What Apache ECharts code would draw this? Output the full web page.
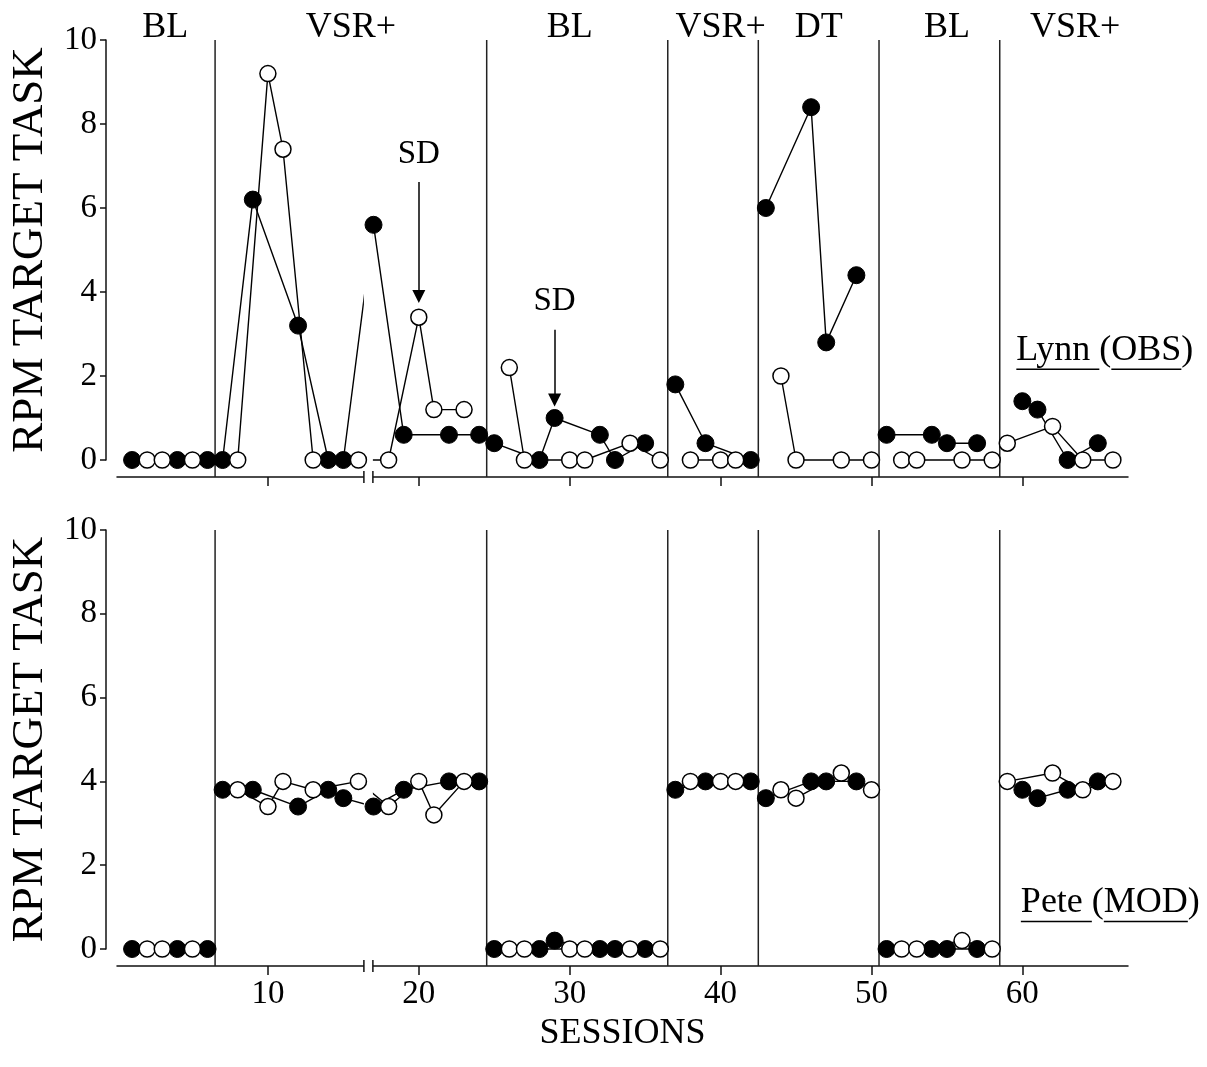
<!DOCTYPE html>
<html>
<head>
<meta charset="utf-8">
<title>RPM target task</title>
<script src="https://cdn.jsdelivr.net/npm/echarts@6/dist/echarts.min.js"></script>
<style>
  html, body { margin: 0; padding: 0; background: #fff; }
  #chart { width: 1207px; height: 1067px; }
</style>
</head>
<body>
<div id="chart"></div>
<script>
// Condition of each session: F = filled circle, O = open circle
const sessionCondition = [
  'F','O','O','F','O','F',
  'F','O','F','O','O','F','O','F','F','O','F','O','F','O','O','F','O','F',
  'F','O','O','F','F','O','O','F','F','O','F','O',
  'F','O','F','O','O','F',
  'F','O','O','F','F','O','F','O',
  'F','O','O','F','F','O','F','O',
  'O','F','F','O','F','O','F','O'
];

// Responses per minute on the target task, sessions 1-66
const lynnRpm = [
  0, 0, 0, 0, 0, 0,
  0, 0, 6.2, 9.2, 7.4, 3.2, 0, 0, 0, 0, 5.6, 0, 0.6, 3.4, 1.2, 0.6, 1.2, 0.6,
  0.4, 2.2, 0, 0, 1.0, 0, 0, 0.6, 0, 0.4, 0.4, 0,
  1.8, 0, 0.4, 0, 0, 0,
  6.0, 2.0, 0, 8.4, 2.8, 0, 4.4, 0,
  0.6, 0, 0, 0.6, 0.4, 0, 0.4, 0,
  0.4, 1.4, 1.2, 0.8, 0, 0, 0.4, 0
];
const peteRpm = [
  0, 0, 0, 0, 0, 0,
  3.8, 3.8, 3.8, 3.4, 4.0, 3.4, 3.8, 3.8, 3.6, 4.0, 3.4, 3.4, 3.8, 4.0, 3.2, 4.0, 4.0, 4.0,
  0, 0, 0, 0, 0.2, 0, 0, 0, 0, 0, 0, 0,
  3.8, 4.0, 4.0, 4.0, 4.0, 4.0,
  3.6, 3.8, 3.6, 4.0, 4.0, 4.2, 4.0, 3.8,
  0, 0, 0, 0, 0, 0.2, 0, 0,
  4.0, 3.8, 3.6, 4.2, 3.8, 3.8, 4.0, 4.0
];

// Phase changes (between sessions) and phase names
const phaseChanges = [6.5, 24.5, 36.5, 42.5, 50.5, 58.5];
const phaseNames = ['BL', 'VSR+', 'BL', 'VSR+', 'DT', 'BL', 'VSR+'];
const phaseLabelAt = [3.2, 15.5, 30, 40, 46.5, 55, 63.5];

const participants = ['Lynn (OBS)', 'Pete (MOD)'];
const participantLabelAt = [[59.6, 2.6], [59.9, 1.1]];

const yTicks = [0, 2, 4, 6, 8, 10];
const xTicks = [10, 20, 30, 40, 50, 60];

// SD arrows in Lynn's panel: session, arrow start, arrow head
const sdMarks = [
  { session: 20, from: 6.62, to: 3.89 },
  { session: 29, from: 3.10, to: 1.43 }
];

// Break in the session axis
const axisBreakAt = 16.66;

const FONT_FAMILY = '"Liberation Serif", "Times New Roman", Times, serif';
const X_AXIS_OFFSET = 17;
const Y_AXIS_OFFSET = 11;

const panels = [
  { values: lynnRpm, top: 40, height: 420 },
  { values: peteRpm, top: 530, height: 419 }
];

// Line data for one condition, broken at every phase change
function lineData(values, cond) {
  const out = [];
  let phase = 0;
  values.forEach((v, i) => {
    const s = i + 1;
    while (phase < phaseChanges.length && s > phaseChanges[phase]) {
      out.push([phaseChanges[phase], '-']);
      phase++;
    }
    if (sessionCondition[i] === cond) out.push([s, v]);
  });
  return out;
}
function pointData(values, cond) {
  const out = [];
  values.forEach((v, i) => { if (sessionCondition[i] === cond) out.push([i + 1, v]); });
  return out;
}

const chart = echarts.init(document.getElementById('chart'), null, { renderer: 'canvas' });

const grids = panels.map(p => ({ left: 117, right: 79, top: p.top, height: p.height }));

const xAxes = panels.map((p, g) => ({
  type: 'value', gridIndex: g, min: 0, max: 67, offset: X_AXIS_OFFSET,
  axisLine: { show: true, onZero: false, lineStyle: { color: '#111', width: 1.5 } },
  axisTick: { show: true, customValues: xTicks, length: 9, lineStyle: { color: '#111', width: 1.5 } },
  axisLabel: { show: g === 1, customValues: xTicks, fontSize: 33, fontFamily: FONT_FAMILY, color: '#000', margin: 12 },
  splitLine: { show: false },
  name: g === 1 ? 'SESSIONS' : '',
  nameLocation: 'middle', nameGap: 50,
  nameTextStyle: { fontSize: 36, fontFamily: FONT_FAMILY, color: '#000' }
}));

const yAxes = panels.map((p, g) => ({
  type: 'value', gridIndex: g, min: 0, max: 10, interval: 2, offset: Y_AXIS_OFFSET,
  axisLine: { show: true, onZero: false, lineStyle: { color: '#111', width: 1.5 } },
  axisTick: { show: true, length: 6, lineStyle: { color: '#111', width: 1.5 } },
  axisLabel: { fontSize: 33, fontFamily: FONT_FAMILY, color: '#000', margin: 9,
    formatter: v => (yTicks.indexOf(v) >= 0 ? String(v) : '') },
  splitLine: { show: false },
  name: 'RPM TARGET TASK', nameLocation: 'middle', nameGap: 50,
  nameTextStyle: { fontSize: 45, fontFamily: FONT_FAMILY, color: '#000' }
}));

const series = [];
panels.forEach((p, g) => {
  ['F', 'O'].forEach(c => {
    series.push({
      type: 'line', xAxisIndex: g, yAxisIndex: g, data: lineData(p.values, c),
      showSymbol: false, symbol: 'none', connectNulls: false, clip: false, silent: true,
      lineStyle: { color: '#000', width: 1.4 }, z: 2
    });
  });
  series.push({
    type: 'scatter', xAxisIndex: g, yAxisIndex: g, data: pointData(p.values, 'F'),
    symbol: 'circle', symbolSize: 17, clip: false, silent: true,
    itemStyle: { color: '#000', borderColor: '#000', borderWidth: 1, opacity: 1 }, z: 4
  });
  series.push({
    type: 'scatter', xAxisIndex: g, yAxisIndex: g, data: pointData(p.values, 'O'),
    symbol: 'circle', symbolSize: 16, clip: false, silent: true,
    itemStyle: { color: '#fff', borderColor: '#000', borderWidth: 1.5, opacity: 1 }, z: 5
  });
});

// SD arrows on Lynn's panel
series[1].markLine = {
  silent: true, animation: false,
  symbol: ['none', 'triangle'], symbolSize: 13,
  lineStyle: { color: '#000', width: 1.5, type: 'solid' },
  itemStyle: { color: '#000' },
  label: { show: false },
  data: sdMarks.map(m => [{ coord: [m.session, m.from] }, { coord: [m.session, m.to] }])
};

chart.setOption({
  animation: false,
  backgroundColor: '#fff',
  grid: grids,
  xAxis: xAxes,
  yAxis: yAxes,
  series: series
});

// Decorations placed through each panel's scales
const px = (g, x, y) => chart.convertToPixel({ gridIndex: g }, [x, y]);
const measure = document.createElement('canvas').getContext('2d');
const LABEL_FONT = '36px ' + FONT_FAMILY;
measure.font = LABEL_FONT;
const textWidth = s => measure.measureText(s).width;

const graphics = [];
panels.forEach((p, g) => {
  const top = px(g, 0, 10)[1];
  const axisY = px(g, 0, 0)[1] + X_AXIS_OFFSET;

  // phase change lines
  phaseChanges.forEach(b => {
    const x = px(g, b, 0)[0];
    graphics.push({ type: 'line', z: 1, silent: true,
      shape: { x1: x, y1: top, x2: x, y2: axisY },
      style: { stroke: '#222', lineWidth: 1.5 } });
  });

  // axis break: gap through lines and axis, with two short bars
  const bx = px(g, axisBreakAt, 0)[0];
  graphics.push({ type: 'rect', z: 3, silent: true,
    shape: { x: bx - 4.5, y: top - 2, width: 9, height: axisY - top + 8 },
    style: { fill: '#fff' } });
  [-4.5, 4.5].forEach(d => {
    graphics.push({ type: 'line', z: 4, silent: true,
      shape: { x1: bx + d, y1: axisY - 6, x2: bx + d, y2: axisY + 6 },
      style: { stroke: '#111', lineWidth: 1.5 } });
  });

  // participant label, underlined except for the parentheses
  const name = participants[g];
  const pos = px(g, participantLabelAt[g][0], participantLabelAt[g][1]);
  graphics.push({ type: 'text', z: 6, silent: true,
    style: { text: name, x: pos[0], y: pos[1], font: LABEL_FONT, fill: '#000',
      align: 'left', verticalAlign: 'middle', textAlign: 'left', textVerticalAlign: 'middle' } });
  const open = name.indexOf('(');
  const close = name.indexOf(')');
  const underY = pos[1] + 18.5;
  [[0, textWidth(name.slice(0, open))],
   [textWidth(name.slice(0, open + 1)), textWidth(name.slice(0, close))]].forEach(seg => {
    graphics.push({ type: 'line', z: 6, silent: true,
      shape: { x1: pos[0] + seg[0], y1: underY, x2: pos[0] + seg[1], y2: underY },
      style: { stroke: '#000', lineWidth: 1.5 } });
  });
});

// phase names above Lynn's panel
phaseNames.forEach((n, i) => {
  const pos = px(0, phaseLabelAt[i], 10);
  graphics.push({ type: 'text', z: 6, silent: true,
    style: { text: n, x: pos[0], y: pos[1] - 12, font: '36px ' + FONT_FAMILY, fill: '#000',
      align: 'center', verticalAlign: 'middle', textAlign: 'center', textVerticalAlign: 'middle' } });
});

// SD labels over the arrows
sdMarks.forEach(m => {
  const pos = px(0, m.session, m.from);
  graphics.push({ type: 'text', z: 6, silent: true,
    style: { text: 'SD', x: pos[0], y: pos[1] - 28, font: '33px ' + FONT_FAMILY, fill: '#000',
      align: 'center', verticalAlign: 'middle', textAlign: 'center', textVerticalAlign: 'middle' } });
});

chart.setOption({ graphic: { elements: graphics } });
</script>
</body>
</html>
